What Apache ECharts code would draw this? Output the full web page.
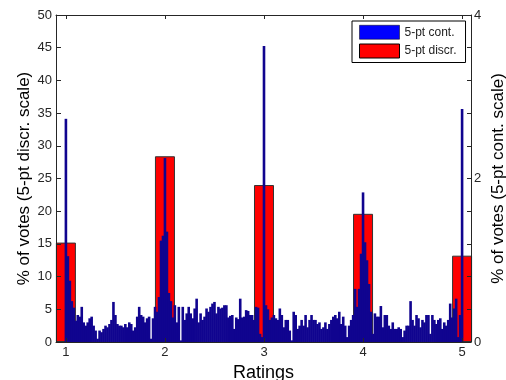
<!DOCTYPE html>
<html>
<head>
<meta charset="utf-8">
<script src="https://cdn.jsdelivr.net/npm/echarts@6.0.0/dist/echarts.min.js"></script>
<style>
  html, body { margin: 0; padding: 0; background: #fff; }
  #chart { width: 506px; height: 380px; }
</style>
</head>
<body>
<div id="chart"></div>
<script>
// discrete 5-pt scale: % of votes per rating (left axis)
var ratings = [1, 2, 3, 4, 5];
var discrVotes = [15.2, 28.4, 24.0, 19.6, 13.2];

// continuous 5-pt scale: bins of 0.02 from 1.00 to 5.00 (right axis)
var contStart = 1;
var contStep = 0.02;
var contVotes = [
  // 1.00 - 1.98
  2.73, 1.05, 0.75, 0.50, 0.42, 0.26, 0.33, 0.31, 0.43, 0.24,
  0.20, 0.24, 0.29, 0.31, 0.20, 0.14, 0.04, 0.14, 0.12, 0.16,
  0.20, 0.18, 0.22, 0.27, 0.49, 0.33, 0.22, 0.20, 0.20, 0.18,
  0.22, 0.18, 0.24, 0.22, 0.14, 0.18, 0.31, 0.43, 0.33, 0.31,
  0.24, 0.29, 0.31, 0.04, 0.29, 0.43, 0.37, 0.55, 1.24, 1.30,
  // 2.00 - 2.54
  2.25, 1.35, 0.60, 0.50, 0.30, 0.45, 0.24, 0.43, 0.02, 0.43,
  0.27, 0.35, 0.43, 0.35, 0.29, 0.41, 0.53, 0.24, 0.35, 0.27,
  0.31, 0.41, 0.37, 0.43, 0.47, 0.49, 0.35, 0.43,
  // 2.56 - 3.40
  0.41, 0.42, 0.45, 0.45, 0.30, 0.32, 0.33, 0.16, 0.30, 0.28,
  0.53, 0.30, 0.31, 0.39, 0.38, 0.33, 0.33, 0.27, 0.43, 0.42,
  0.10, 0.06, 3.62, 0.45, 0.40, 0.27, 0.30, 0.33, 0.29, 0.27,
  0.41, 0.33, 0.18, 0.27, 0.27, 0.14, 0.02, 0.37, 0.33, 0.16,
  0.20, 0.27, 0.20,
  // 3.42 - 4.22
  0.33, 0.18, 0.27, 0.33, 0.27, 0.27, 0.22, 0.24, 0.16, 0.18,
  0.24, 0.16, 0.22, 0.27, 0.31, 0.33, 0.29, 0.37, 0.22, 0.31,
  0.20, 0.06, 0.20, 0.27, 0.33, 0.65, 0.43, 0.65, 1.08, 1.83,
  1.22, 1.00, 0.71, 0.37, 0.10, 0.35, 0.31, 0.31, 0.44, 0.18,
  0.33,
  // 4.24 - 5.00
  0.33, 0.20, 0.16, 0.24, 0.16, 0.16, 0.18, 0.16, 0.06, 0.14,
  0.20, 0.20, 0.50, 0.27, 0.20, 0.33, 0.29, 0.18, 0.27, 0.24,
  0.33, 0.33, 0.10, 0.33, 0.27, 0.22, 0.27, 0.29, 0.16, 0.24,
  0.20, 0.27, 0.47, 0.30, 0.41, 0.53, 0.06, 0.33, 2.85
];

var rightLabels = [0, 2, 4];

var chart = echarts.init(document.getElementById('chart'), null, { renderer: 'canvas' });

var discrData = ratings.map(function (r, i) { return [r, discrVotes[i]]; });
var contData = contVotes.map(function (v, i) {
  return [+(contStart + i * contStep).toFixed(2), v];
});

var font = '"Liberation Sans", Arial, sans-serif';
var lineColor = '#262626';

var option = {
  animation: false,
  backgroundColor: '#fff',
  textStyle: { fontFamily: font },
  grid: {
    left: 56, top: 15, width: 415, height: 327,
    containLabel: false,
    outerBoundsMode: 'none'
  },
  legend: {
    orient: 'vertical',
    left: 352,
    top: 21,
    padding: [4, 9, 4, 7],
    itemWidth: 40,
    itemHeight: 14,
    itemGap: 4,
    borderColor: '#000',
    borderWidth: 1,
    borderRadius: 0,
    backgroundColor: '#fff',
    icon: 'rect',
    textStyle: { fontSize: 12, color: '#222', fontFamily: font },
    data: [
      { name: '5-pt cont.', itemStyle: { color: '#0000ff', borderColor: '#000', borderWidth: 0.5 } },
      { name: '5-pt discr.', itemStyle: { color: '#ff0000', borderColor: '#000', borderWidth: 1 } }
    ]
  },
  xAxis: [
    {
      type: 'value',
      position: 'bottom',
      min: 0.9,
      max: 5.09,
      name: 'Ratings',
      nameLocation: 'middle',
      nameGap: 22,
      nameMoveOverlap: false,
      nameTextStyle: { fontSize: 18, color: '#000', fontFamily: font },
      z: 10,
      axisLine: { show: true, onZero: false, lineStyle: { color: lineColor, width: 1 } },
      axisTick: { show: true, inside: true, length: 4, customValues: ratings, lineStyle: { color: lineColor } },
      axisLabel: { customValues: ratings, margin: 4, fontSize: 13, color: '#262626', fontFamily: font },
      splitLine: { show: false }
    },
    {
      type: 'value',
      position: 'top',
      min: 0.9,
      max: 5.09,
      z: 10,
      axisLine: { show: true, onZero: false, lineStyle: { color: lineColor, width: 1 } },
      axisTick: { show: true, inside: true, length: 4, customValues: ratings, lineStyle: { color: lineColor } },
      axisLabel: { show: false },
      splitLine: { show: false }
    }
  ],
  yAxis: [
    {
      type: 'value',
      position: 'left',
      min: 0,
      max: 50,
      interval: 5,
      name: '% of votes (5-pt discr. scale)',
      nameLocation: 'middle',
      nameRotate: 90,
      nameGap: 23,
      nameMoveOverlap: false,
      nameTextStyle: { fontSize: 17, color: '#000', fontFamily: font },
      z: 10,
      axisLine: { show: true, onZero: false, lineStyle: { color: lineColor, width: 1 } },
      axisTick: { show: true, inside: true, length: 5, lineStyle: { color: lineColor } },
      axisLabel: { margin: 4, fontSize: 13, color: '#262626', fontFamily: font },
      splitLine: { show: false }
    },
    {
      type: 'value',
      position: 'right',
      min: 0,
      max: 4,
      interval: 0.4,
      name: '% of votes (5-pt cont. scale)',
      nameLocation: 'middle',
      nameRotate: 90,
      nameGap: 19,
      nameMoveOverlap: false,
      nameTextStyle: { fontSize: 17, color: '#000', fontFamily: font },
      z: 10,
      axisLine: { show: true, onZero: false, lineStyle: { color: lineColor, width: 1 } },
      axisTick: { show: true, inside: true, length: 4, lineStyle: { color: lineColor } },
      axisLabel: {
        margin: 3,
        fontSize: 13,
        color: '#262626',
        fontFamily: font,
        formatter: function (v) {
          for (var i = 0; i < rightLabels.length; i++) {
            if (Math.abs(v - rightLabels[i]) < 1e-6) return String(rightLabels[i]);
          }
          return '';
        }
      },
      splitLine: { show: false }
    }
  ],
  series: [
    {
      name: '5-pt discr.',
      type: 'bar',
      xAxisIndex: 1,
      yAxisIndex: 0,
      barWidth: 20,
      data: discrData,
      itemStyle: { color: '#ff0000', borderColor: '#333', borderWidth: 1 },
      emphasis: { disabled: true }
    },
    {
      name: '5-pt cont.',
      type: 'bar',
      xAxisIndex: 0,
      yAxisIndex: 1,
      barWidth: 2.6,
      data: contData,
      itemStyle: { color: '#10048f' },
      emphasis: { disabled: true }
    }
  ]
};

chart.setOption(option);
</script>
</body>
</html>
